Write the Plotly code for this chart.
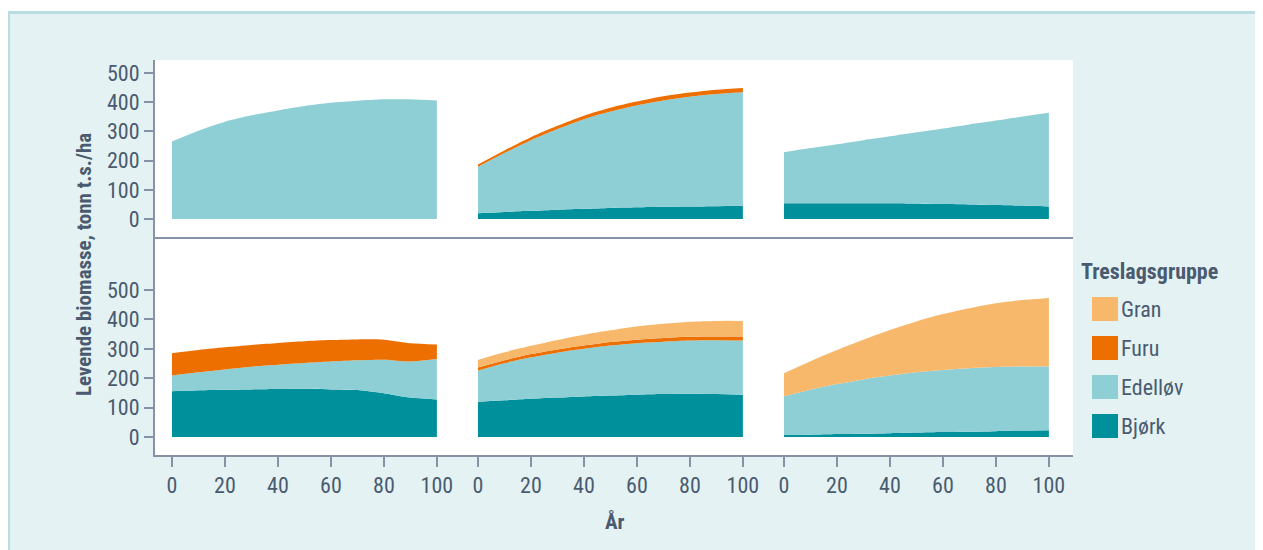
import plotly.graph_objects as go

# ---------------- data ----------------
years = [0, 10, 20, 30, 40, 50, 60, 70, 80, 90, 100]
species = ["Bjørk", "Edelløv", "Furu", "Gran"]          # stacking order (bottom -> top)
legend_order = ["Gran", "Furu", "Edelløv", "Bjørk"]
colors = {"Bjørk": "#00909c", "Edelløv": "#8ecfd6", "Furu": "#ec6f00", "Gran": "#f7b86b"}

# top row
p1_bjork = [0] * 11
p1_edellov = [265, 302, 333, 355, 372, 387, 398, 405, 410, 410, 406]
p1_furu = [0] * 11
p1_gran = [0] * 11

p2_bjork = [20, 24, 28, 32, 35, 38, 40, 42, 43, 44, 45]
p2_edellov = [159, 202, 242, 276, 307, 330, 349, 364, 376, 384, 389]
p2_furu = [8, 9, 10, 11, 12, 13, 13, 14, 14, 15, 15]
p2_gran = [0] * 11

p3_bjork = [54, 54, 54, 54, 54, 53, 51, 50, 48, 46, 43]
p3_edellov = [175, 189, 202, 216, 229, 244, 259, 274, 289, 305, 321]
p3_furu = [0] * 11
p3_gran = [0] * 11

# bottom row
p4_bjork = [156, 159, 161, 162, 163, 164, 162, 160, 149, 134, 128]
p4_edellov = [53, 61, 69, 77, 83, 88, 95, 101, 114, 123, 137]
p4_furu = [76, 76, 75, 74, 74, 74, 73, 71, 68, 62, 50]
p4_gran = [0] * 11

p5_bjork = [120, 125, 130, 134, 138, 141, 144, 146, 147, 146, 144]
p5_edellov = [106, 126, 141, 153, 162, 170, 175, 178, 181, 183, 184]
p5_furu = [10, 10, 11, 11, 11, 12, 12, 13, 13, 13, 14]
p5_gran = [26, 27, 28, 32, 37, 40, 45, 48, 51, 53, 53]

p6_bjork = [7, 8, 10, 11, 13, 15, 17, 18, 20, 22, 23]
p6_edellov = [132, 153, 170, 185, 196, 205, 211, 216, 218, 218, 218]
p6_furu = [0] * 11
p6_gran = [78, 97, 116, 135, 155, 173, 190, 204, 217, 226, 232]

panels = [
    [p1_bjork, p1_edellov, p1_furu, p1_gran],
    [p2_bjork, p2_edellov, p2_furu, p2_gran],
    [p3_bjork, p3_edellov, p3_furu, p3_gran],
    [p4_bjork, p4_edellov, p4_furu, p4_gran],
    [p5_bjork, p5_edellov, p5_furu, p5_gran],
    [p6_bjork, p6_edellov, p6_furu, p6_gran],
]

x_ticks = [0, 20, 40, 60, 80, 100]
y_ticks = [0, 100, 200, 300, 400, 500]

# ---------------- styling ----------------
OFF = 8                      # page body margin: figure starts at screen (8, 8)
W, H = 1263 - OFF, 550 - OFF
# plot area in screen pixels: x 155..1073, y 60..455
L, T = 155 - OFF, 60 - OFF
R = W - (1073 - OFF)
B = H - (455 - OFF)
PW, PH = W - L - R, H - T - B
FONT = "Liberation Sans Narrow, Roboto Condensed, DejaVu Sans Condensed, Arial Narrow, sans-serif"
TXT = "#4a5b6f"
AXC = "#8692a5"
BG = "#e4f2f4"
BORDER = "#b9dde3"

def px2x(sx):
    """screen x pixel -> paper coordinate"""
    return (sx - OFF - L) / PW

def py2y(sy):
    """screen y pixel -> paper coordinate"""
    return (H - B - (sy - OFF)) / PH

fig = go.Figure()

split = py2y(237)
row_domains = [[split, 1.0], [0.0, split]]
col_domains = [[0, 1 / 3], [1 / 3, 2 / 3], [2 / 3, 1.0]]
y_ranges = [[-61.6, 544.5], [-61.2, 680.3]]
x_range = [-6.4, 109.1]

for p, data in enumerate(panels):
    row, col = divmod(p, 3)
    sfx = "" if p == 0 else str(p + 1)
    for name, vals in zip(species, data):
        fig.add_trace(go.Scatter(
            x=years, y=vals, name=name, mode="lines",
            line=dict(width=0, color=colors[name], shape="spline", smoothing=0.8),
            fillcolor=colors[name], stackgroup=f"g{p}",
            xaxis="x" + sfx, yaxis="y" + sfx, showlegend=False,
            hoverinfo="x+y+name",
        ))
    bottom = row == 1
    left = col == 0
    fig.layout["xaxis" + sfx] = dict(
        domain=col_domains[col], range=x_range, anchor="y" + sfx,
        showgrid=False, zeroline=False,
        showline=True, linecolor=AXC, linewidth=2,
        ticks="outside" if bottom else "", ticklen=10, tickwidth=2, tickcolor=AXC,
        tickvals=x_ticks, showticklabels=bottom,
        tickfont=dict(family=FONT, size=22, color=TXT),
    )
    fig.layout["yaxis" + sfx] = dict(
        domain=row_domains[row], range=y_ranges[row], anchor="x" + sfx,
        showgrid=False, zeroline=False,
        showline=left, linecolor=AXC, linewidth=2,
        ticks="outside" if left else "", ticklen=9, tickwidth=2, tickcolor=AXC,
        tickvals=y_ticks, showticklabels=left,
        tickfont=dict(family=FONT, size=22, color=TXT),
    )

shapes = [
    # white strip above the framed box, plus its top/left border
    dict(type="rect", xref="paper", yref="paper", x0=px2x(0), x1=px2x(1300), y0=py2y(0), y1=py2y(11),
         fillcolor="white", line=dict(width=0), layer="below"),
    dict(type="rect", xref="paper", yref="paper", x0=px2x(7), x1=px2x(1300), y0=py2y(11), y1=py2y(14),
         fillcolor=BORDER, line=dict(width=0), layer="below"),
    dict(type="rect", xref="paper", yref="paper", x0=px2x(7), x1=px2x(10), y0=py2y(11), y1=py2y(600),
         fillcolor=BORDER, line=dict(width=0), layer="below"),
]

annotations = [
    dict(text="<b>Levende biomasse, tonn t.s./ha</b>", xref="paper", yref="paper",
         x=px2x(84), y=py2y(265), textangle=-90, showarrow=False,
         font=dict(family=FONT, size=21, color=TXT), xanchor="center", yanchor="middle"),
    dict(text="<b>År</b>", xref="paper", yref="paper", x=px2x(615), y=py2y(522),
         showarrow=False, font=dict(family=FONT, size=21, color=TXT),
         xanchor="center", yanchor="middle"),
    dict(text="<b>Treslagsgruppe</b>", xref="paper", yref="paper", x=px2x(1079), y=py2y(271),
         showarrow=False, font=dict(family=FONT, size=22, color=TXT),
         xanchor="left", yanchor="middle"),
]

for i, name in enumerate(legend_order):
    cy = 309 + i * 39
    shapes.append(dict(type="rect", xref="paper", yref="paper",
                       x0=px2x(1092), x1=px2x(1118), y0=py2y(cy - 12), y1=py2y(cy + 12),
                       fillcolor=colors[name], line=dict(width=0)))
    annotations.append(dict(text=name, xref="paper", yref="paper", x=px2x(1119), y=py2y(cy),
                            showarrow=False, font=dict(family=FONT, size=22, color=TXT),
                            xanchor="left", yanchor="middle"))

fig.update_layout(
    width=W, height=H,
    margin=dict(l=L, r=R, t=T, b=B, autoexpand=False),
    paper_bgcolor=BG, plot_bgcolor="white",
    showlegend=False,
    shapes=shapes, annotations=annotations,
    font=dict(family=FONT, color=TXT),
)

fig.write_html(
    "out.html",
    post_script="document.documentElement.style.overflow = 'hidden'; document.body.style.overflow = 'hidden';",
)
